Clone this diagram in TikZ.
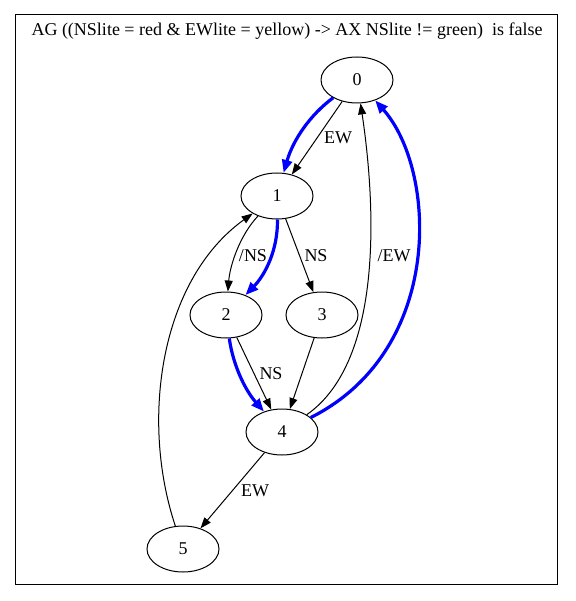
\documentclass[tikz,border=0pt]{standalone}
\usepackage{fontspec}
\setmainfont{Liberation Serif}
\usetikzlibrary{shapes.geometric,arrows.meta}

\begin{document}
\begin{tikzpicture}[x=1pt,y=-1pt,line width=1pt,
  stnode/.style={draw,ellipse,minimum width=72pt,minimum height=46pt,inner sep=0pt,font=\fontsize{18}{20}\selectfont},
  tr/.style={-{Triangle[length=11pt,width=8pt]}},
  cex/.style={blue,line width=3.2pt,-{Triangle[length=13pt,width=10pt]}},
  lbl/.style={font=\fontsize{18}{20}\selectfont}]
\useasboundingbox (0,0) rectangle (575,601);
\draw (15,15) rectangle (557,584);
\node[lbl] (title) at (287,31) {AG ((NSlite = red \& EWlite = yellow) -> AX NSlite != green)\ \ is false};

\node[stnode] (n0) at (357,80) {0};
\node[stnode] (n1) at (277,196) {1};
\node[stnode] (n2) at (226,315) {2};
\node[stnode] (n3) at (322,315) {3};
\node[stnode] (n4) at (282,432) {4};
\node[stnode] (n5) at (183,549) {5};

% transitions
\draw[tr] (n0) -- (n1);
\node[lbl] at (338,138) {EW};
\draw[tr] (n1) .. controls (240,235) and (230,265) .. (n2);
\node[lbl] at (253,256) {/NS};
\draw[tr] (n1) -- (n3);
\node[lbl] at (316,256) {NS};
\draw[tr] (n2) -- (n4);
\node[lbl] at (271,374) {NS};
\draw[tr] (n3) -- (n4);
\draw[tr] (n4) .. controls (385,360) and (375,200) .. (n0);
\node[lbl] at (394,256) {/EW};
\draw[tr] (n4) -- (n5);
\node[lbl] at (255,491) {EW};
\draw[tr] (n5) .. controls (140,420) and (160,280) .. (n1);

% counterexample path
\draw[cex] (n0) .. controls (310,115) and (293,140) .. (n1);
\draw[cex] (n1) .. controls (278,250) and (265,275) .. (n2);
\draw[cex] (n2) .. controls (233,365) and (245,390) .. (n4);
\draw[cex] (n4) .. controls (445,350) and (437,170) .. (n0);
\end{tikzpicture}
\end{document}
